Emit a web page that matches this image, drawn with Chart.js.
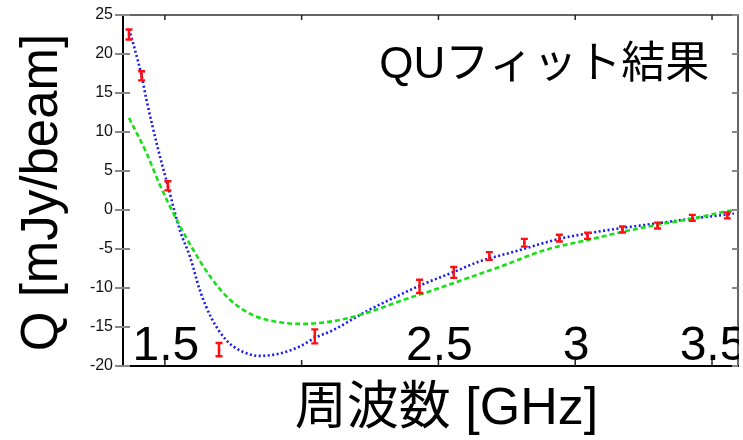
<!DOCTYPE html>
<html>
<head>
<meta charset="utf-8">
<script src="https://cdn.jsdelivr.net/npm/chart.js@4.4.1/dist/chart.umd.min.js"></script>
<style>
html,body{margin:0;padding:0;background:#fff;}
#wrap{width:743px;height:440px;position:relative;}
</style>
</head>
<body>
<div id="wrap"><canvas id="c" width="743" height="440"></canvas></div>
<script>
// Measured points (GHz, mJy/beam) with error bars
const freqs = [1.369, 1.415, 1.511, 1.698, 2.048, 2.431, 2.556, 2.686, 2.814, 2.942, 3.045, 3.173, 3.301, 3.428, 3.556];
const qVals = [22.5, 17.2, 3.1, -17.9, -16.2, -9.8, -8.0, -5.9, -4.2, -3.6, -3.3, -2.5, -2.0, -1.0, -0.7];
const qErr  = [0.64, 0.58, 0.58, 0.85, 0.9, 0.85, 0.7, 0.5, 0.5, 0.43, 0.4, 0.38, 0.38, 0.38, 0.38];

// Blue dotted fit curve
const blueFreq = [1.37, 1.415, 1.433, 1.476, 1.511, 1.555, 1.592, 1.628, 1.671, 1.725, 1.786, 1.847, 1.92, 1.993, 2.048, 2.115, 2.236, 2.358, 2.431, 2.559, 2.65, 2.771, 2.942, 3.045, 3.173, 3.301, 3.428, 3.55, 3.58];
const blueQ    = [23.2, 17.2, 14.1, 7.7, 3.1, -2.6, -6.0, -10.3, -13.9, -16.7, -18.2, -18.7, -18.4, -17.5, -16.4, -15.4, -13.0, -10.9, -9.7, -7.9, -6.6, -5.4, -3.7, -3.0, -2.3, -1.7, -1.1, -0.6, -0.45];

// Green dashed fit curve
const greenFreq = [1.369, 1.433, 1.482, 1.531, 1.592, 1.665, 1.738, 1.823, 1.92, 1.993, 2.06, 2.139, 2.236, 2.358, 2.479, 2.601, 2.723, 2.893, 3.045, 3.173, 3.301, 3.428, 3.55, 3.58];
const greenQ    = [11.8, 7.3, 3.2, -0.4, -4.4, -8.5, -11.5, -13.5, -14.4, -14.6, -14.5, -14.1, -13.2, -11.7, -10.3, -8.8, -7.3, -5.1, -3.85, -2.8, -1.9, -1.1, -0.2, 0.0];

// Axis ticks
const xTickVals = [1.5, 2, 2.5, 3, 3.5];
const xTickLabels = ['1.5', '', '2.5', '3', '3.5'];
const yTickVals = [-20, -15, -10, -5, 0, 5, 10, 15, 20, 25];

const xTitle = '周波数 [GHz]';
const yTitle = 'Q [mJy/beam]';
const annotation = 'QUフィット結果';

const FONT = '"Liberation Sans", Arial, "Noto Sans CJK JP", sans-serif';

const toXY = (xs, ys) => xs.map((x, i) => ({x: x, y: ys[i]}));

const decorPlugin = {
  id: 'decor',
  afterDatasetsDraw(chart) {
    const ctx = chart.ctx;
    const xs = chart.scales.x, ys = chart.scales.y;
    ctx.save();
    ctx.strokeStyle = '#ff1010';
    ctx.lineWidth = 2.4;
    freqs.forEach((f, i) => {
      const px = xs.getPixelForValue(f);
      const y1 = ys.getPixelForValue(qVals[i] + qErr[i]);
      const y2 = ys.getPixelForValue(qVals[i] - qErr[i]);
      ctx.beginPath();
      ctx.moveTo(px, y1); ctx.lineTo(px, y2);
      ctx.moveTo(px - 3.5, y1); ctx.lineTo(px + 3.5, y1);
      ctx.moveTo(px - 3.5, y2); ctx.lineTo(px + 3.5, y2);
      ctx.stroke();
    });
    ctx.restore();
  },
  afterDraw(chart) {
    const ctx = chart.ctx;
    const xs = chart.scales.x, ys = chart.scales.y;
    const a = chart.chartArea;
    ctx.save();
    // top & right frame
    ctx.strokeStyle = '#333';
    ctx.lineWidth = 1.5;
    ctx.beginPath();
    ctx.moveTo(a.left, a.top); ctx.lineTo(a.right, a.top); ctx.lineTo(a.right, a.bottom);
    ctx.stroke();
    // y ticks
    ctx.strokeStyle = '#888';
    ctx.lineWidth = 2;
    yTickVals.forEach(v => {
      const py = ys.getPixelForValue(v);
      ctx.beginPath();
      ctx.moveTo(a.left - 8, py); ctx.lineTo(a.left + 7, py);
      ctx.moveTo(a.right - 6, py); ctx.lineTo(a.right, py);
      ctx.stroke();
    });
    // x ticks
    ctx.strokeStyle = '#222';
    ctx.lineWidth = 1.5;
    xTickVals.forEach(v => {
      const px = xs.getPixelForValue(v);
      ctx.beginPath();
      ctx.moveTo(px, a.bottom); ctx.lineTo(px, a.bottom - 6);
      ctx.moveTo(px, a.top); ctx.lineTo(px, a.top + 5);
      ctx.stroke();
    });
    // big x tick labels inside the plot
    ctx.save();
    ctx.beginPath();
    ctx.rect(a.left, a.top, a.right - a.left + 1, a.bottom - a.top);
    ctx.clip();
    ctx.fillStyle = '#000';
    ctx.font = '48px ' + FONT;
    ctx.textAlign = 'center';
    ctx.textBaseline = 'alphabetic';
    xTickVals.forEach((v, i) => {
      if (!xTickLabels[i]) return;
      ctx.fillText(xTickLabels[i], xs.getPixelForValue(v) + 1, a.bottom - 6);
    });
    ctx.restore();
    // annotation
    ctx.fillStyle = '#000';
    ctx.font = '44px ' + FONT;
    ctx.textAlign = 'center';
    ctx.textBaseline = 'middle';
    ctx.fillText(annotation, a.left + (a.right - a.left) * 0.685, a.top + 51);
    // x axis title
    ctx.font = '52px ' + FONT;
    ctx.textBaseline = 'middle';
    ctx.fillText(xTitle, (a.left + a.right) / 2 + 16, a.bottom + 44);
    // y axis title
    ctx.font = '51px ' + FONT;
    ctx.translate(43, (a.top + a.bottom) / 2 + 2);
    ctx.rotate(-Math.PI / 2);
    ctx.fillText(yTitle, 0, 0);
    ctx.restore();
  }
};

new Chart(document.getElementById('c'), {
  type: 'scatter',
  data: {
    datasets: [
      {
        label: 'green fit',
        data: toXY(greenFreq, greenQ),
        showLine: true,
        borderColor: '#18e018',
        borderWidth: 2.6,
        borderDash: [5, 3],
        pointRadius: 0,
        fill: false,
        cubicInterpolationMode: 'monotone'
      },
      {
        label: 'blue fit',
        data: toXY(blueFreq, blueQ),
        showLine: true,
        borderColor: '#1a1af0',
        borderWidth: 2.6,
        borderDash: [2, 2.5],
        pointRadius: 0,
        fill: false,
        cubicInterpolationMode: 'monotone'
      },
      {
        label: 'Q data',
        data: toXY(freqs, qVals),
        showLine: false,
        pointStyle: 'rect',
        pointRadius: 1.8,
        backgroundColor: '#ff1010',
        borderColor: '#ff1010',
        borderWidth: 0
      }
    ]
  },
  options: {
    responsive: false,
    animation: false,
    layout: { padding: { left: 0, top: 15, right: 5, bottom: 0 } },
    plugins: { legend: { display: false }, tooltip: { enabled: false } },
    scales: {
      x: {
        type: 'linear',
        min: 1.347, max: 3.595,
        grid: { display: false, drawTicks: false },
        border: { display: true, color: '#000', width: 2 },
        ticks: { display: false },
        afterFit: s => { s.height = 74; s.paddingLeft = 0; s.paddingRight = 0; }
      },
      y: {
        min: -20, max: 25,
        grid: { display: false, drawTicks: false },
        border: { display: true, color: '#000', width: 2 },
        ticks: {
          stepSize: 5,
          padding: 10,
          color: '#111',
          font: { family: FONT, size: 16 }
        },
        afterFit: s => { s.width = 123; s.paddingTop = 0; s.paddingBottom = 0; }
      }
    }
  },
  plugins: [decorPlugin]
});
</script>
</body>
</html>
